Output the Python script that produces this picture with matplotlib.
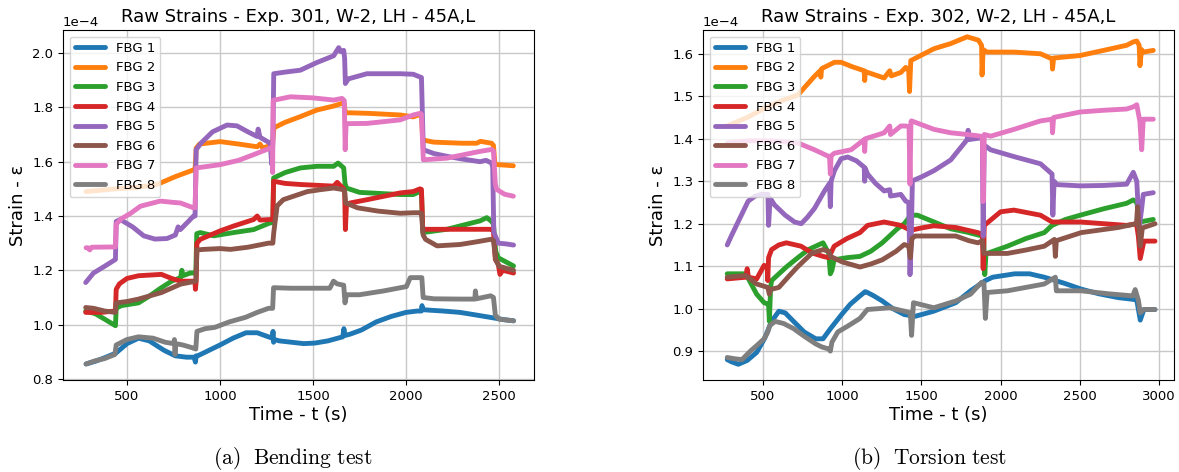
import matplotlib
matplotlib.use("Agg")
import matplotlib.pyplot as plt

plt.rcParams['font.family'] = ['DejaVu Sans']
plt.rcParams['mathtext.fontset'] = 'cm'

labels = ["FBG 1", "FBG 2", "FBG 3", "FBG 4", "FBG 5", "FBG 6", "FBG 7", "FBG 8"]
colors = ["#1f77b4", "#ff7f0e", "#2ca02c", "#d62728", "#9467bd", "#8c564b", "#e377c2", "#7f7f7f"]

titles = ["Raw Strains - Exp. 301, W-2, LH - 45A,L", "Raw Strains - Exp. 302, W-2, LH - 45A,L"]
captions = [r"$\mathrm{(a)\ \ Bending\ test}$", r"$\mathrm{(b)\ \ Torsion\ test}$"]
xlabel = "Time - t (s)"
ylabel = "Strain - ε"

# ---- Bending test (Exp. 301): (time s, strain x1e-4) ----
bend_fbg1 = [(280,0.855),(330,0.865),(380,0.878),(440,0.895),(500,0.93),(562,0.95),(620,0.94),(700,0.905),(760,0.885),(820,0.88),(860,0.88),(868,0.862),(872,0.885),(880,0.885),(940,0.905),(1000,0.925),(1070,0.95),(1140,0.97),(1200,0.97),(1260,0.955),(1282,0.95),(1285,0.975),(1288,0.935),(1292,0.945),(1320,0.94),(1385,0.935),(1450,0.93),(1510,0.932),(1580,0.94),(1660,0.955),(1666,0.985),(1672,0.96),(1700,0.965),(1760,0.98),(1840,1.01),(1920,1.03),(2000,1.045),(2060,1.05),(2082,1.05),(2086,1.07),(2090,1.055),(2130,1.053),(2200,1.05),(2290,1.045),(2380,1.035),(2476,1.024),(2530,1.018),(2578,1.014)]
bend_fbg2 = [(280,1.49),(360,1.495),(440,1.50),(550,1.505),(661,1.516),(760,1.545),(858,1.57),(866,1.57),(872,1.65),(890,1.665),(1000,1.674),(1100,1.665),(1200,1.655),(1215,1.665),(1230,1.65),(1270,1.66),(1282,1.665),(1290,1.725),(1350,1.745),(1432,1.766),(1520,1.79),(1611,1.805),(1656,1.815),(1668,1.812),(1674,1.78),(1701,1.78),(1800,1.778),(1969,1.772),(2039,1.765),(2075,1.774),(2083,1.772),(2090,1.68),(2150,1.672),(2300,1.668),(2380,1.668),(2400,1.675),(2460,1.668),(2470,1.66),(2478,1.59),(2577,1.585)]
bend_fbg3 = [(278,1.05),(330,1.04),(380,1.02),(438,0.996),(442,1.06),(470,1.07),(562,1.08),(620,1.105),(685,1.136),(740,1.16),(788,1.173),(795,1.2),(800,1.18),(840,1.19),(870,1.19),(875,1.335),(894,1.339),(966,1.327),(1073,1.339),(1181,1.35),(1270,1.375),(1284,1.375),(1288,1.54),(1350,1.56),(1432,1.577),(1520,1.583),(1611,1.583),(1635,1.595),(1665,1.577),(1672,1.52),(1680,1.503),(1750,1.487),(1969,1.479),(2039,1.479),(2075,1.49),(2083,1.488),(2090,1.339),(2219,1.351),(2398,1.382),(2434,1.394),(2460,1.38),(2470,1.37),(2482,1.27),(2496,1.246),(2578,1.216)]
bend_fbg4 = [(278,1.045),(360,1.045),(438,1.05),(442,1.13),(459,1.15),(500,1.17),(562,1.18),(685,1.185),(740,1.17),(788,1.16),(865,1.16),(868,1.13),(872,1.16),(876,1.3),(894,1.314),(1000,1.345),(1073,1.363),(1181,1.387),(1200,1.4),(1215,1.385),(1270,1.387),(1284,1.387),(1288,1.528),(1350,1.52),(1432,1.516),(1611,1.51),(1630,1.524),(1665,1.5),(1670,1.49),(1674,1.35),(1680,1.44),(1700,1.448),(1790,1.46),(1969,1.485),(2039,1.49),(2075,1.5),(2083,1.498),(2090,1.351),(2219,1.351),(2460,1.351),(2470,1.345),(2480,1.24),(2496,1.222),(2505,1.185),(2520,1.2),(2578,1.19)]
bend_fbg5 = [(278,1.155),(320,1.19),(380,1.215),(438,1.24),(442,1.38),(464,1.387),(530,1.36),(590,1.327),(650,1.315),(715,1.317),(760,1.33),(775,1.36),(787,1.35),(830,1.38),(858,1.40),(866,1.40),(872,1.645),(900,1.67),(960,1.71),(1038,1.735),(1091,1.732),(1150,1.71),(1199,1.693),(1205,1.72),(1215,1.69),(1270,1.668),(1278,1.59),(1284,1.67),(1289,1.924),(1350,1.93),(1432,1.937),(1520,1.965),(1611,1.99),(1638,2.02),(1650,2.005),(1665,2.01),(1670,1.98),(1674,1.888),(1690,1.905),(1790,1.924),(1969,1.924),(2039,1.922),(2075,1.912),(2083,1.91),(2093,1.644),(2150,1.63),(2219,1.62),(2300,1.61),(2398,1.60),(2430,1.605),(2460,1.595),(2466,1.58),(2472,1.34),(2496,1.30),(2540,1.297),(2578,1.293)]
bend_fbg6 = [(278,1.063),(320,1.06),(380,1.05),(438,1.045),(442,1.08),(500,1.085),(562,1.094),(685,1.118),(788,1.149),(870,1.16),(876,1.275),(912,1.277),(1000,1.28),(1056,1.277),(1150,1.285),(1261,1.3),(1284,1.3),(1289,1.339),(1307,1.437),(1340,1.46),(1396,1.473),(1470,1.49),(1540,1.497),(1611,1.503),(1665,1.497),(1670,1.49),(1676,1.448),(1740,1.43),(1850,1.418),(1969,1.41),(2039,1.412),(2075,1.412),(2083,1.41),(2092,1.33),(2105,1.314),(2167,1.29),(2290,1.295),(2380,1.305),(2455,1.314),(2470,1.31),(2482,1.24),(2500,1.215),(2578,1.20)]
bend_fbg7 = [(280,1.283),(290,1.283),(300,1.275),(310,1.285),(438,1.286),(442,1.37),(470,1.39),(520,1.41),(572,1.436),(679,1.455),(750,1.45),(787,1.448),(858,1.43),(866,1.43),(872,1.577),(1000,1.589),(1100,1.605),(1181,1.626),(1270,1.65),(1280,1.655),(1283,1.56),(1286,1.826),(1378,1.839),(1500,1.835),(1611,1.827),(1656,1.833),(1668,1.825),(1673,1.644),(1678,1.74),(1790,1.741),(1969,1.754),(2039,1.772),(2075,1.778),(2083,1.775),(2093,1.607),(2219,1.613),(2398,1.638),(2460,1.645),(2470,1.64),(2480,1.52),(2487,1.498),(2530,1.48),(2577,1.473)]
bend_fbg8 = [(280,0.855),(330,0.867),(380,0.875),(435,0.89),(442,0.925),(500,0.945),(562,0.955),(640,0.95),(706,0.935),(750,0.93),(755,0.945),(758,0.89),(762,0.93),(800,0.925),(850,0.915),(870,0.91),(876,0.975),(920,0.985),(973,0.99),(1050,1.01),(1138,1.027),(1200,1.045),(1261,1.06),(1283,1.06),(1288,1.136),(1380,1.134),(1467,1.134),(1590,1.134),(1610,1.16),(1630,1.15),(1665,1.145),(1672,1.08),(1680,1.11),(1750,1.11),(1879,1.124),(2002,1.14),(2023,1.173),(2085,1.173),(2092,1.10),(2150,1.095),(2290,1.094),(2370,1.094),(2373,1.124),(2378,1.095),(2455,1.106),(2470,1.1),(2480,1.035),(2500,1.02),(2578,1.014)]

# ---- Torsion test (Exp. 302) ----
tors_fbg1 = [(274,0.88),(300,0.875),(344,0.869),(400,0.878),(460,0.897),(510,0.93),(554,0.97),(600,0.994),(640,0.99),(693,0.97),(760,0.945),(833,0.929),(879,0.929),(926,0.953),(996,0.986),(1050,1.01),(1112,1.03),(1145,1.04),(1159,1.038),(1200,1.03),(1253,1.018),(1320,1.0),(1392,0.986),(1461,0.982),(1578,0.994),(1717,1.014),(1810,1.042),(1904,1.066),(1950,1.074),(2090,1.082),(2183,1.082),(2276,1.074),(2400,1.06),(2509,1.046),(2620,1.035),(2742,1.026),(2835,1.022),(2860,1.02),(2882,0.973),(2905,0.998),(2975,0.998)]
tors_fbg2 = [(274,1.43),(400,1.45),(500,1.47),(620,1.49),(720,1.503),(825,1.547),(860,1.56),(865,1.545),(870,1.565),(951,1.58),(993,1.58),(1060,1.57),(1139,1.56),(1142,1.537),(1146,1.558),(1265,1.543),(1300,1.56),(1310,1.548),(1370,1.556),(1401,1.568),(1420,1.56),(1425,1.511),(1433,1.584),(1496,1.596),(1580,1.612),(1685,1.624),(1789,1.64),(1860,1.632),(1880,1.62),(1883,1.55),(1890,1.61),(1914,1.604),(2084,1.604),(2252,1.6),(2325,1.588),(2328,1.564),(2335,1.59),(2503,1.596),(2650,1.608),(2796,1.62),(2838,1.628),(2860,1.63),(2875,1.62),(2880,1.572),(2890,1.61),(2901,1.604),(2964,1.608)]
tors_fbg3 = [(274,1.082),(391,1.082),(414,1.066),(460,1.034),(507,1.014),(535,1.01),(540,0.97),(548,1.05),(554,1.066),(647,1.098),(720,1.12),(786,1.139),(879,1.155),(915,1.13),(925,1.082),(935,1.09),(949,1.115),(1030,1.12),(1112,1.123),(1180,1.135),(1253,1.155),(1345,1.187),(1392,1.2),(1433,1.22),(1475,1.22),(1580,1.204),(1685,1.188),(1789,1.18),(1873,1.172),(1893,1.17),(1900,1.08),(1908,1.13),(1915,1.13),(2043,1.147),(2160,1.165),(2276,1.179),(2325,1.196),(2410,1.21),(2503,1.22),(2650,1.235),(2796,1.248),(2838,1.256),(2860,1.25),(2880,1.204),(2964,1.21)]
tors_fbg4 = [(274,1.07),(391,1.074),(400,1.094),(408,1.074),(460,1.07),(507,1.102),(527,1.095),(530,1.066),(535,1.12),(554,1.139),(600,1.15),(647,1.155),(740,1.147),(810,1.131),(879,1.123),(915,1.12),(949,1.147),(1030,1.165),(1112,1.179),(1160,1.196),(1265,1.204),(1370,1.196),(1412,1.188),(1440,1.185),(1500,1.19),(1578,1.195),(1717,1.191),(1857,1.179),(1885,1.175),(1890,1.094),(1897,1.196),(2000,1.228),(2084,1.232),(2252,1.22),(2325,1.204),(2503,1.204),(2796,1.196),(2858,1.2),(2870,1.17),(2882,1.118),(2905,1.159),(2975,1.159)]
tors_fbg5 = [(274,1.15),(301,1.172),(350,1.21),(406,1.253),(450,1.265),(490,1.269),(531,1.269),(535,1.196),(545,1.26),(573,1.244),(640,1.22),(699,1.204),(741,1.2),(780,1.215),(825,1.236),(888,1.277),(920,1.295),(925,1.24),(930,1.3),(951,1.325),(993,1.353),(1035,1.357),(1090,1.348),(1139,1.333),(1142,1.3),(1146,1.33),(1160,1.317),(1210,1.295),(1265,1.277),(1300,1.28),(1305,1.265),(1370,1.269),(1401,1.253),(1420,1.25),(1428,1.08),(1435,1.15),(1443,1.301),(1500,1.31),(1580,1.325),(1685,1.35),(1789,1.398),(1795,1.42),(1800,1.398),(1873,1.402),(1885,1.4),(1890,1.17),(1897,1.385),(1937,1.374),(2084,1.358),(2252,1.341),(2325,1.317),(2330,1.22),(2338,1.30),(2356,1.292),(2503,1.289),(2650,1.29),(2796,1.293),(2838,1.321),(2860,1.3),(2875,1.19),(2891,1.236),(2901,1.269),(2964,1.273)]
tors_fbg6 = [(274,1.074),(391,1.078),(460,1.058),(530,1.05),(540,1.034),(548,1.045),(600,1.05),(660,1.075),(717,1.098),(810,1.131),(879,1.139),(915,1.135),(926,1.123),(1000,1.11),(1112,1.098),(1180,1.105),(1253,1.115),(1340,1.135),(1392,1.151),(1420,1.147),(1430,1.12),(1440,1.165),(1461,1.171),(1578,1.171),(1717,1.171),(1800,1.16),(1857,1.155),(1885,1.16),(1895,1.13),(1927,1.13),(2043,1.13),(2160,1.138),(2276,1.147),(2340,1.163),(2346,1.123),(2352,1.16),(2509,1.179),(2742,1.191),(2858,1.2),(2865,1.24),(2872,1.2),(2882,1.147),(2895,1.19),(2975,1.2)]
tors_fbg7 = [(274,1.39),(400,1.395),(550,1.395),(720,1.39),(825,1.374),(905,1.36),(920,1.358),(925,1.317),(930,1.36),(951,1.366),(1056,1.374),(1139,1.398),(1142,1.37),(1146,1.4),(1265,1.414),(1300,1.43),(1305,1.41),(1370,1.43),(1401,1.43),(1422,1.428),(1428,1.293),(1434,1.44),(1437,1.442),(1580,1.422),(1685,1.414),(1789,1.41),(1873,1.406),(1885,1.405),(1890,1.252),(1897,1.41),(1937,1.406),(2084,1.422),(2252,1.442),(2325,1.446),(2328,1.414),(2335,1.45),(2503,1.463),(2650,1.467),(2796,1.47),(2838,1.475),(2860,1.48),(2880,1.44),(2891,1.374),(2901,1.446),(2964,1.446)]
tors_fbg8 = [(274,0.885),(320,0.882),(367,0.88),(420,0.9),(460,0.913),(507,0.929),(530,0.945),(542,0.96),(577,0.97),(630,0.965),(693,0.953),(760,0.935),(833,0.917),(870,0.91),(915,0.905),(925,0.9),(935,0.921),(972,0.945),(1040,0.96),(1112,0.977),(1159,0.998),(1230,1.0),(1300,1.002),(1392,0.994),(1430,0.99),(1438,0.937),(1450,1.014),(1578,1.002),(1717,1.018),(1810,1.034),(1880,1.062),(1895,1.06),(1904,0.977),(1915,1.038),(2043,1.042),(2160,1.05),(2276,1.058),(2346,1.074),(2352,1.042),(2369,1.042),(2509,1.042),(2680,1.035),(2835,1.03),(2850,1.045),(2870,1.02),(2882,0.99),(2905,0.998),(2975,0.998)]

bend_series = [bend_fbg1, bend_fbg2, bend_fbg3, bend_fbg4, bend_fbg5, bend_fbg6, bend_fbg7, bend_fbg8]
tors_series = [tors_fbg1, tors_fbg2, tors_fbg3, tors_fbg4, tors_fbg5, tors_fbg6, tors_fbg7, tors_fbg8]
scale = 1e-4

fig = plt.figure(figsize=(11.79, 4.72), dpi=100)
ax1 = fig.add_axes([63/1179, 1-380/472, 471/1179, 350/472])
ax2 = fig.add_axes([703/1179, 1-380/472, 471/1179, 350/472])

for ax, series, title, xlim, ylim in [
        (ax1, bend_series, titles[0], (156, 2688), (0.796, 2.085)),
        (ax2, tors_series, titles[1], (121, 3095), (0.832, 1.656))]:
    for pts, lab, col in zip(series, labels, colors):
        t = [p[0] for p in pts]
        s = [p[1] * scale for p in pts]
        ax.plot(t, s, color=col, lw=3.5, label=lab, solid_joinstyle='round', solid_capstyle='round')
    ax.set_xlim(*xlim)
    ax.set_ylim(ylim[0] * scale, ylim[1] * scale)
    ax.ticklabel_format(axis='y', style='sci', scilimits=(0, 0))
    ax.grid(True, color='#c8c8c8', lw=1.0)
    ax.set_axisbelow(True)
    ax.set_title(title, fontsize=13)
    ax.set_xlabel(xlabel, fontsize=13, labelpad=2)
    ax.set_ylabel(ylabel, fontsize=13)
    ax.tick_params(labelsize=9.5)
    ax.yaxis.get_offset_text().set_fontsize(9.5)
    leg = ax.legend(loc='upper left', fontsize=9.5, handlelength=2.3, borderaxespad=0.5)

fig.text(293/1179, 1-458/472, captions[0], fontsize=15.5, ha='center', va='center')
fig.text(930/1179, 1-458/472, captions[1], fontsize=15.5, ha='center', va='center')

fig.savefig("out.png", dpi=100)
